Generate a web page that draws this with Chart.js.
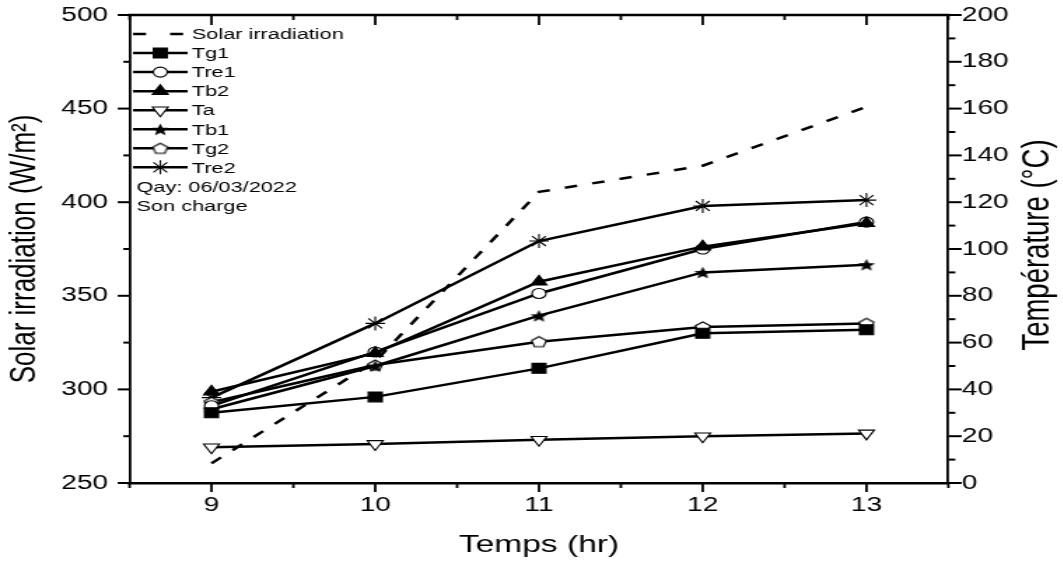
<!DOCTYPE html>
<html>
<head>
<meta charset="utf-8">
<script src="https://cdn.jsdelivr.net/npm/chart.js@4.4.0/dist/chart.umd.min.js"></script>
<style>
  html, body { margin: 0; padding: 0; background: #fff; overflow: hidden; }
  /* the original figure is stretched sideways, so draw narrow and stretch it */
  #wrap { width: 759.29px; height: 563px; transform: scaleX(1.4); transform-origin: 0 0; }
</style>
</head>
<body>
<div id="wrap"><canvas id="chart"></canvas></div>
<script>
const hours = [9, 10, 11, 12, 13];
const solar = [260.5, 315, 405.5, 419.5, 451];
const tg1 = [30, 36.8, 49, 64, 65.5];
const tre1 = [33, 56, 81, 100, 111.5];
const tb2 = [39, 55.5, 86, 101, 111];
const ta = [15.3, 16.7, 18.5, 20, 21.2];
const tb1 = [31.5, 50, 71.5, 90, 93.3];
const tg2 = [34.5, 50.4, 60.4, 66.7, 68.2];
const tre2 = [36.5, 68.2, 103.4, 118.4, 120.9];

const xTicks = [9, 10, 11, 12, 13];
const solarTicks = [250, 300, 350, 400, 450, 500];
const tempTicks = [0, 20, 40, 60, 80, 100, 120, 140, 160, 180, 200];
const noteLines = ['Qay: 06/03/2022', 'Son charge'];
const rightTitle = 'Température (°C)';

const FONT = '"Liberation Sans", Arial, sans-serif';

function pts(arr) {
  return hours.map((h, i) => ({x: h, y: arr[i]}));
}

// marker images for shapes chart.js does not have
function pentagon(r) {
  const c = document.createElement('canvas');
  const s = Math.ceil(2 * r + 3);
  c.width = c.height = s;
  const g = c.getContext('2d');
  g.beginPath();
  for (let i = 0; i < 5; i++) {
    const a = -Math.PI / 2 + i * 2 * Math.PI / 5;
    g.lineTo(s / 2 + r * Math.cos(a), s / 2 + 0.5 + r * Math.sin(a));
  }
  g.closePath();
  g.fillStyle = '#fff';
  g.fill();
  g.lineWidth = 1.1;
  g.strokeStyle = '#000';
  g.stroke();
  return c;
}

function star(R, r) {
  const c = document.createElement('canvas');
  const s = Math.ceil(2 * R + 2);
  c.width = c.height = s;
  const g = c.getContext('2d');
  g.beginPath();
  for (let i = 0; i < 10; i++) {
    const a = -Math.PI / 2 + i * Math.PI / 5;
    const rr = i % 2 ? r : R;
    g.lineTo(s / 2 + rr * Math.cos(a), s / 2 + 0.7 + rr * Math.sin(a));
  }
  g.closePath();
  g.fillStyle = '#000';
  g.fill();
  return c;
}

function tempSet(label, arr, style, radius, fill, rot) {
  return {
    label: label,
    data: pts(arr),
    yAxisID: 'y2',
    borderColor: '#000',
    borderWidth: 2.5,
    pointStyle: style,
    pointRadius: radius,
    pointRotation: rot || 0,
    pointBackgroundColor: fill,
    pointBorderColor: '#000',
    pointBorderWidth: 1.1
  };
}

// fixed box sizes so the plot sits where it does in the figure
function fixY(w) {
  return s => { s.width = w; s.paddingTop = 0; s.paddingBottom = 0; };
}

const ticksPlugin = {
  id: 'ticksPlugin',
  afterDraw(chart) {
    const ctx = chart.ctx;
    const a = chart.chartArea;
    const sx = chart.scales.x, sy = chart.scales.y, sy2 = chart.scales.y2;
    function seg(x1, y1, x2, y2) {
      ctx.beginPath(); ctx.moveTo(x1, y1); ctx.lineTo(x2, y2); ctx.stroke();
    }
    ctx.save();
    ctx.strokeStyle = '#000';
    ctx.lineWidth = 2.5;
    seg(a.left - 1, a.top, a.right + 1, a.top);

    ctx.lineWidth = 1.8;
    for (let v = 8.5; v <= 13.5; v += 0.5) {
      const x = sx.getPixelForValue(v);
      const major = v % 1 === 0;
      seg(x, a.bottom, x, a.bottom + (major ? 9 : 5));
      seg(x, a.top, x, a.top + (major ? 10 : 5));
    }
    ctx.lineWidth = 2;
    for (let v = 250; v <= 500; v += 25) {
      const y = sy.getPixelForValue(v);
      seg(a.left, y, a.left - (v % 50 === 0 ? 8.5 : 4.5), y);
    }
    for (let v = 0; v <= 200; v += 10) {
      const y = sy2.getPixelForValue(v);
      seg(a.right, y, a.right + (v % 20 === 0 ? 9.5 : 5), y);
    }

    // right axis title reads bottom to top, like the left one
    ctx.fillStyle = '#000';
    ctx.font = '27.5px ' + FONT;
    ctx.textAlign = 'center';
    ctx.textBaseline = 'middle';
    ctx.translate(741, (a.top + a.bottom) / 2 - 4);
    ctx.rotate(-Math.PI / 2);
    ctx.fillText(rightTitle, 0, 0);
    ctx.restore();
  }
};

const legendBox = {
  id: 'legendBox',
  afterDraw(chart) {
    const ctx = chart.ctx;
    const x0 = 95, x1 = 134, xm = 114.5, xt = 137;
    let y = 34;
    const step = 19.05;
    ctx.save();
    ctx.font = '15.5px ' + FONT;
    ctx.textBaseline = 'middle';
    chart.data.datasets.forEach(ds => {
      ctx.strokeStyle = '#000';
      ctx.lineWidth = 2.5;
      ctx.setLineDash(ds.borderDash ? [9.3, 17.2] : []);
      ctx.beginPath(); ctx.moveTo(x0, y); ctx.lineTo(x1, y); ctx.stroke();
      ctx.setLineDash([]);
      if (ds.pointRadius) {
        ctx.fillStyle = ds.pointBackgroundColor;
        ctx.lineWidth = ds.pointBorderWidth;
        Chart.helpers.drawPoint(ctx, {
          pointStyle: ds.pointStyle,
          radius: ds.pointRadius,
          rotation: ds.pointRotation,
          borderWidth: ds.pointBorderWidth
        }, xm, y);
      }
      ctx.fillStyle = '#000';
      ctx.fillText(ds.label, xt, y + 1);
      y += step;
    });
    noteLines.forEach(t => {
      ctx.fillText(t, 97.5, y + 1);
      y += step;
    });
    ctx.restore();
  }
};

const ctx = document.getElementById('chart').getContext('2d');
const chart = new Chart(ctx, {
  type: 'line',
  data: {
    datasets: [
      {
        label: 'Solar irradiation',
        data: pts(solar),
        yAxisID: 'y',
        borderColor: '#000',
        borderWidth: 2.5,
        borderDash: [9, 11],
        pointRadius: 0
      },
      tempSet('Tg1', tg1, 'rect', 7, '#000'),
      tempSet('Tre1', tre1, 'circle', 5, '#fff'),
      Object.assign(tempSet('Tb2', tb2, 'triangle', 6.5, '#000'), { order: -1 }),
      tempSet('Ta', ta, 'triangle', 6.5, '#fff', 180),
      tempSet('Tb1', tb1, star(6.5, 2.8), 6.5, '#000'),
      tempSet('Tg2', tg2, pentagon(5.5), 5.5, '#fff'),
      tempSet('Tre2', tre2, 'star', 7, '#fff')
    ]
  },
  options: {
    responsive: true,
    maintainAspectRatio: false,
    animation: false,
    devicePixelRatio: 1,
    layout: { padding: { top: 15, left: 0, right: 0, bottom: 0 } },
    elements: { line: { tension: 0 } },
    plugins: {
      legend: { display: false },
      tooltip: { enabled: false }
    },
    scales: {
      x: {
        type: 'linear',
        min: 8.5,
        max: 13.5,
        afterBuildTicks: s => { s.ticks = xTicks.map(v => ({value: v})); },
        afterFit: s => { s.height = 80; s.paddingLeft = 0; s.paddingRight = 0; },
        grid: { display: false, drawTicks: false },
        border: { display: true, color: '#000', width: 2.5 },
        ticks: { color: '#000', font: { family: FONT, size: 20 }, padding: 10, maxRotation: 0 },
        title: {
          display: true,
          text: 'Temps (hr)',
          color: '#000',
          font: { family: FONT, size: 24 },
          padding: { top: 0, bottom: 3.6 }
        }
      },
      y: {
        position: 'left',
        min: 250,
        max: 500,
        afterBuildTicks: s => { s.ticks = solarTicks.map(v => ({value: v})); },
        afterFit: fixY(92.57),
        grid: { display: false, drawTicks: false },
        border: { display: true, color: '#000', width: 1.8 },
        ticks: { color: '#000', font: { family: FONT, size: 20 }, padding: 15.4 },
        title: {
          display: true,
          text: 'Solar irradiation (W/m²)',
          color: '#000',
          font: { family: FONT, size: 26 },
          padding: { top: 2.3, bottom: 0 }
        }
      },
      y2: {
        position: 'right',
        min: 0,
        max: 200,
        afterBuildTicks: s => { s.ticks = tempTicks.map(v => ({value: v})); },
        afterFit: fixY(81.9),
        grid: { display: false, drawTicks: false },
        border: { display: true, color: '#000', width: 1.8 },
        ticks: { color: '#000', font: { family: FONT, size: 20 }, padding: 9.7 },
        title: { display: false }
      }
    }
  },
  plugins: [ticksPlugin, legendBox]
});
</script>
</body>
</html>
